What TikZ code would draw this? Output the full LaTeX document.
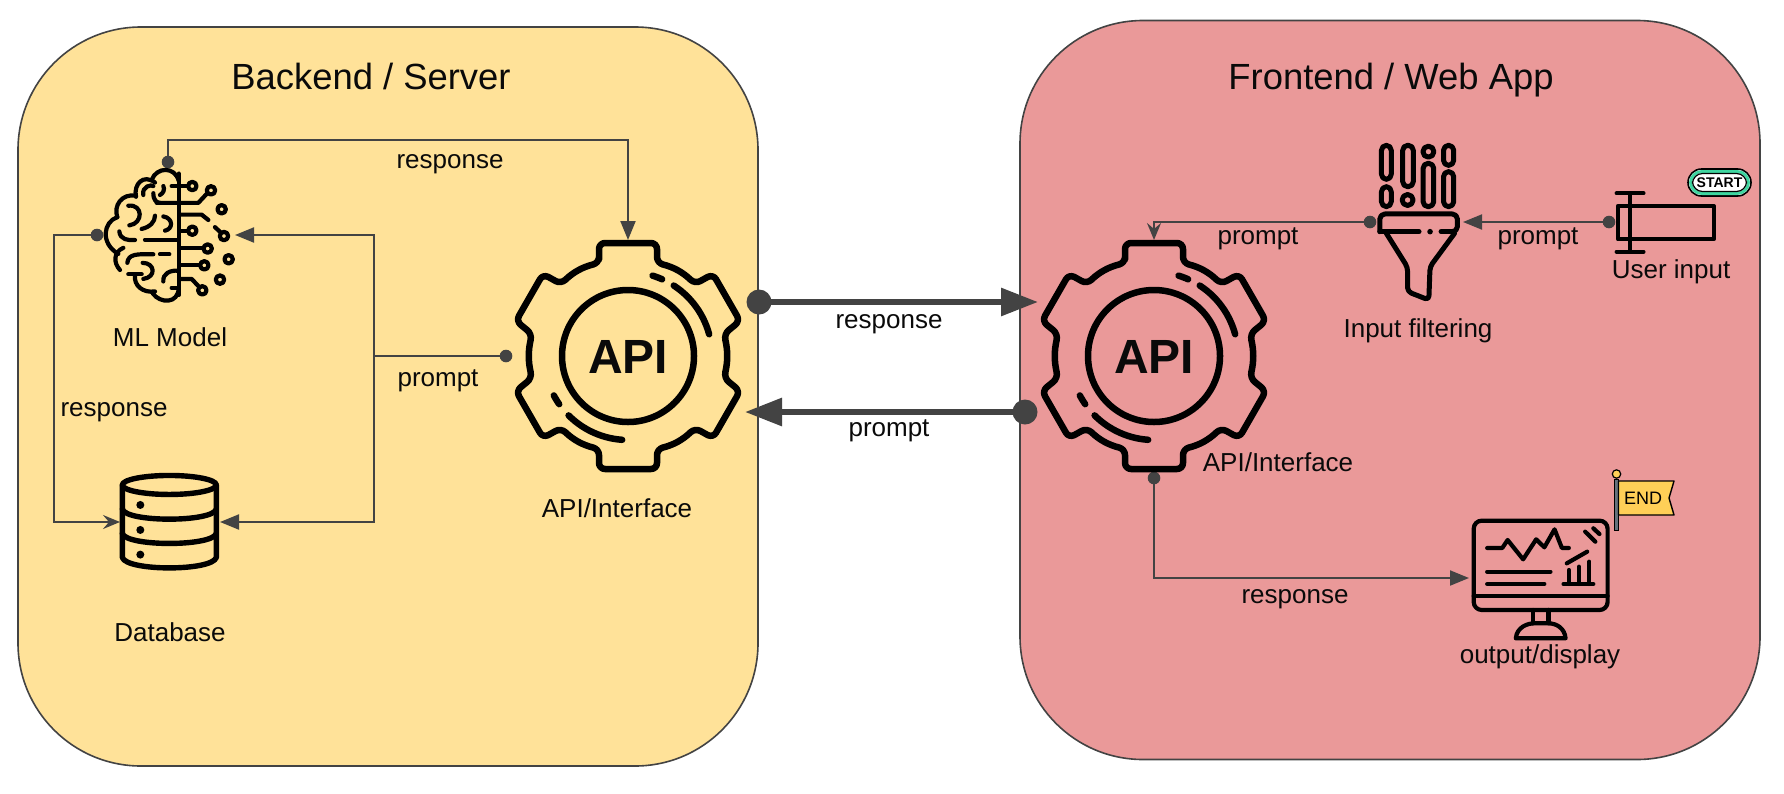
\documentclass[tikz,border=0pt]{standalone}
\usepackage{fontspec}
\setmainfont{Liberation Sans}
\usetikzlibrary{arrows.meta}
\definecolor{wire}{HTML}{434343}
\definecolor{backfill}{HTML}{FFE299}
\definecolor{frontfill}{HTML}{EA9999}
\definecolor{ink}{HTML}{0A0A0A}
\definecolor{flagyellow}{HTML}{FFCF57}
\definecolor{polegrey}{HTML}{66727C}
\definecolor{ringgreen}{HTML}{3FD6A0}
\tikzset{
  panel/.style={draw=wire,line width=1.6pt,rounded corners=123pt,inner sep=0pt,outer sep=0pt},
  iconbox/.style={inner sep=0pt,outer sep=0pt},
  lbl/.style={text=ink,inner sep=0pt,anchor=base,font=\fontsize{26}{30}\selectfont},
  ttl/.style={text=ink,inner sep=0pt,anchor=base,font=\fontsize{36.4}{42}\selectfont},
  conn/.style={draw=wire,line width=2pt},
  fatconn/.style={draw=wire,line width=6pt},
  tipfull/.style={-{Triangle[length=19pt,width=15pt]}},
  tipbarb/.style={-{Stealth[length=17pt,width=14pt,inset=6pt]}},
  tipfat/.style={-{Triangle[length=37pt,width=27pt]}},
  dotnode/.style={circle,fill=wire,inner sep=0pt,outer sep=0pt,minimum size=12.6pt},
  fatdot/.style={circle,fill=wire,inner sep=0pt,outer sep=0pt,minimum size=25pt},
  icn/.style={draw=black,line cap=round,line join=round},
  gearicon/.pic={
    \draw[icn,line width=6.5pt,rounded corners=6pt]
      (-29,-93) -- (-29,-113) -- (29,-113) -- (29,-93)
      to[bend left=15] (67,-72) -- (85,-82) -- (112,-35) -- (96,-22)
      to[bend left=13] (96,22) -- (112,35) -- (85,82) -- (67,72)
      to[bend left=15] (29,93) -- (29,113) -- (-29,113) -- (-29,93)
      to[bend left=15] (-67,72) -- (-85,82) -- (-112,35) -- (-96,22)
      to[bend left=13] (-96,-22) -- (-112,-35) -- (-85,-82) -- (-67,-72)
      to[bend left=15] cycle;
    \draw[icn,line width=6.5pt] (0,0) circle (66pt);
    \draw[icn,line width=6.5pt] plot[domain=-57:-15,samples=15] ({84*cos(\x)},{84*sin(\x)});
    \draw[icn,line width=6.5pt] plot[domain=-73:-66,samples=4] ({84*cos(\x)},{84*sin(\x)});
    \draw[icn,line width=6.5pt] plot[domain=94:135,samples=15] ({84*cos(\x)},{84*sin(\x)});
    \draw[icn,line width=6.5pt] plot[domain=145:152,samples=4] ({84*cos(\x)},{84*sin(\x)});
    \node[text=ink,inner sep=0pt,font=\fontsize{48}{50}\selectfont\bfseries] at (0,1) {API};
  }
}
\begin{document}
\begin{tikzpicture}[x=1pt,y=-1pt]
\useasboundingbox (0,0) rectangle (1784,793);
% panels
\node[panel,fill=backfill,minimum width=740pt,minimum height=739pt] (backend) at (388,396.5) {};
\node[panel,fill=frontfill,minimum width=740pt,minimum height=739pt] (frontend) at (1390,390) {};
\node[ttl] (ttlB) at (371,89) {Backend / Server};
\node[ttl] (ttlF) at (1391,89) {Frontend / Web App};
% icon anchors
\node[iconbox,minimum width=130pt,minimum height=133pt] (brain) at (170,235) {};
\node[iconbox,minimum width=100pt,minimum height=96pt] (db) at (170,522) {};
\node[iconbox,minimum width=226pt,minimum height=232pt] (apiL) at (628,356) {};
\node[iconbox,minimum width=226pt,minimum height=232pt] (apiR) at (1154,356) {};
\node[iconbox,minimum width=86pt,minimum height=158pt] (filter) at (1420,222) {};
\node[iconbox,minimum width=105pt,minimum height=60pt] (userin) at (1661.5,222) {};
\node[iconbox,minimum width=143pt,minimum height=120pt] (monitor) at (1540.5,578) {};
% connector end points
\node[dotnode] (dBrainTop) at (168,162) {};
\node[dotnode] (dBrainLeft) at (97,235) {};
\node[dotnode] (dApiL) at (506,356) {};
\node[dotnode] (dFilter) at (1370,222) {};
\node[dotnode] (dUser) at (userin.west) {};
\node[dotnode] (dApiR) at (1154,478) {};
\node[fatdot] (dResp) at (759,302) {};
\node[fatdot] (dProm) at (1025,412) {};
\coordinate (junc) at (374,356);
\coordinate (cTop) at (168,140);
\coordinate (cLeft) at (54,235);
\coordinate (cLeftB) at (54,522);
\coordinate (tipResp) at (1038,302);
\coordinate (tipProm) at (745,412);
% connectors
\draw[conn,tipfull] (dBrainTop.center) -- (cTop) -| (apiL.north);
\draw[conn] (dApiL.center) -- (junc);
\draw[conn,tipfull] (junc) |- (brain.east);
\draw[conn,tipfull] (junc) |- (db.east);
\draw[conn,tipbarb] (dBrainLeft.center) -- (cLeft) -- (cLeftB) -- (db.west);
\draw[fatconn,tipfat] (dResp.center) -- (tipResp);
\draw[fatconn,tipfat] (dProm.center) -- (tipProm);
\draw[conn,tipfull] (dUser.center) -- (filter.east);
\draw[conn,tipbarb] (dFilter.center) -| (apiR.north);
\draw[conn,tipfull] (dApiR.center) |- (monitor.west);
% gears
\pic at (apiL) {gearicon};
\pic at (apiR) {gearicon};
% brain
\begin{scope}[shift={(60,120)},x=0.3333pt,y=-0.3571pt,icn,line width=4.2pt]
  \draw (356,150) -- (356,490);
  \draw (356,170) .. controls (345,130) and (290,130) .. (275,168);
  \draw (285,175) .. controls (250,150) and (220,180) .. (228,215);
  \draw (228,212) .. controls (185,205) and (160,240) .. (172,272);
  \draw (172,272) .. controls (130,285) and (120,345) .. (175,375);
  \draw (190,358) .. controls (160,370) and (160,400) .. (180,420);
  \draw (225,432) .. controls (220,465) and (250,485) .. (285,480);
  \draw (278,485) .. controls (300,515) and (356,515) .. (356,470);
  \draw (250,210) .. controls (245,185) and (275,180) .. (280,185);
  \draw (280,205) .. controls (280,225) and (290,232) .. (300,232);
  \draw (300,210) .. controls (310,205) and (315,195) .. (310,185);
  \draw (205,240) .. controls (250,235) and (250,290) .. (208,295);
  \draw (245,305) .. controls (270,300) and (285,285) .. (285,268);
  \draw (310,270) .. controls (340,275) and (340,305) .. (315,310);
  \draw (178,312) .. controls (180,335) and (205,338) .. (225,336);
  \draw (255,335) -- (352,335);
  \draw (202,400) .. controls (205,375) and (230,375) .. (280,376);
  \draw (300,376) -- (328,376);
  \draw (205,432) -- (245,432);
  \draw (248,400) .. controls (285,400) and (290,440) .. (250,445);
  \draw (310,452) .. controls (308,430) and (330,420) .. (356,422);
  \draw (335,470) -- (350,470);
  \draw (335,185) -- (382,185);
  \draw (397,185) circle (4.2pt);
  \draw (290,232) -- (415,232) -- (441,206);
  \draw (453,197) circle (4.2pt);
  \draw (485,250) circle (4.2pt);
  \draw (360,265) -- (425,265) -- (445,280);
  \draw (360,310) -- (382,310);
  \draw (397,310) circle (4.2pt);
  \draw (465,300) -- (481,314);
  \draw (492,325) circle (4.2pt);
  \draw (506,390) circle (4.2pt);
  \draw (360,358) -- (428,358);
  \draw (443,360) circle (4.2pt);
  \draw (360,405) -- (418,405);
  \draw (433,407) circle (4.2pt);
  \draw (480,447) circle (4.2pt);
  \draw (360,445) -- (395,445) -- (415,465);
  \draw (427,477) circle (4.2pt);
\end{scope}
% database
\begin{scope}[shift={(60,120)},x=0.3333pt,y=-0.3571pt,icn,line width=5.4pt]
  \draw (328,1022) ellipse (47pt and 9.5pt);
  \draw (187,1022) -- (187,1225) .. controls (200,1264) and (456,1264) .. (469,1225) -- (469,1022);
  \draw (187,1090) .. controls (200,1127) and (456,1127) .. (469,1090);
  \draw (187,1158) .. controls (200,1195) and (456,1195) .. (469,1158);
  \fill[black] (241,1078) circle (4pt) (241,1148) circle (4pt) (241,1217) circle (4pt);
\end{scope}
% filter
\begin{scope}[shift={(1130,130)},x=0.4082pt,y=-0.3333pt,icn,line width=5pt]
  \draw[rounded corners=5pt] (616,46) rectangle (640,148);
  \draw[rounded corners=5pt] (668,46) rectangle (694,170);
  \draw (731,65) circle (5.5pt);
  \draw[rounded corners=5pt] (768,46) rectangle (793,106);
  \draw[rounded corners=5pt] (616,170) rectangle (640,230);
  \draw (680,210) circle (5.5pt);
  \draw[rounded corners=5pt] (718,100) rectangle (744,230);
  \draw[rounded corners=5pt] (768,125) rectangle (793,230);
  \draw[rounded corners=5pt] (612,305) -- (612,252) -- (802,252) -- (802,305) -- (790,305);
  \draw (612,305) -- (708,305);
  \fill[black] (735,305) circle (2.8pt);
  \draw (762,305) -- (790,305);
  \draw[rounded corners=4pt] (628,310) -- (680,412) -- (680,485) -- (732,510) -- (735,410) -- (795,310);
\end{scope}
% user input
\begin{scope}[shift={(1130,130)},x=0.4082pt,y=-0.3333pt,icn,line width=4pt]
  \draw (1195,228) rectangle (1430,328);
  \draw (1225,190) -- (1225,365);
  \draw (1192,190) -- (1258,190);
  \draw (1192,365) -- (1258,365);
\end{scope}
% start badge
\draw[line width=1.6pt,draw=black,fill=white,rounded corners=13.5pt] (1688,169) rectangle (1751,196);
\draw[line width=3pt,draw=ringgreen,rounded corners=11.5pt] (1690.5,171.5) rectangle (1748.5,193.5);
\draw[line width=1.2pt,draw=black,fill=white,rounded corners=10pt] (1692.5,173.5) rectangle (1746.5,191.5);
\node[inner sep=0pt,text=black,font=\fontsize{14}{15}\selectfont\bfseries] (startText) at (1719.5,183) {START};
% monitor
\begin{scope}[shift={(1130,450)},x=0.4082pt,y=-0.3333pt,icn,line width=4.2pt]
  \draw[rounded corners=8pt] (842,212) rectangle (1170,480);
  \draw (842,438) -- (1170,438);
  \draw (988,480) -- (988,520) (1025,480) -- (1025,520);
  \draw (945,565) .. controls (948,530) and (975,520) .. (990,520) -- (1025,520) .. controls (1045,520) and (1065,535) .. (1067,565) -- cycle;
  \draw (875,294) -- (912,294) -- (925,270) -- (963,328) -- (995,268) -- (1015,292) -- (1040,238) -- (1058,294) -- (1075,294);
  \draw (875,365) -- (1030,365);
  \draw (875,402) -- (1015,402);
  \draw (1062,402) -- (1135,402);
  \draw (1075,402) -- (1075,360) (1100,402) -- (1100,350) (1125,402) -- (1125,335);
  \draw (1070,340) -- (1120,305);
  \draw (1115,245) -- (1140,275);
  \draw (1135,235) -- (1150,252);
\end{scope}
% end flag
\fill[black] (1613.5,479) rectangle (1618.5,531);
\fill[polegrey] (1614.5,480) rectangle (1617.5,530);
\draw[line width=1.2pt,draw=black,fill=flagyellow] (1616.5,474) circle (4.2pt);
\draw[line width=1.4pt,draw=black,line join=round,fill=flagyellow] (1618.5,481) -- (1674,481) -- (1669,498) -- (1674,515) -- (1618.5,515) -- cycle;
\node[inner sep=0pt,text=black,font=\fontsize{18}{20}\selectfont] (endText) at (1643,498) {END};
% labels
\node[lbl] (l1) at (450,168) {response};
\node[lbl] (l2) at (438,386) {prompt};
\node[lbl] (l3) at (114,416) {response};
\node[lbl] (l4) at (170,346) {ML Model};
\node[lbl] (l5) at (170,641) {Database};
\node[lbl] (l6) at (617,517) {API/Interface};
\node[lbl] (l7) at (889,328) {response};
\node[lbl] (l8) at (889,436) {prompt};
\node[lbl] (l9) at (1258,244) {prompt};
\node[lbl] (l10) at (1538,244) {prompt};
\node[lbl] (l11) at (1278,471) {API/Interface};
\node[lbl] (l12) at (1418,337) {Input filtering};
\node[lbl] (l13) at (1671,278) {User input};
\node[lbl] (l14) at (1295,603) {response};
\node[lbl] (l15) at (1540,663) {output/display};
\end{tikzpicture}
\end{document}
